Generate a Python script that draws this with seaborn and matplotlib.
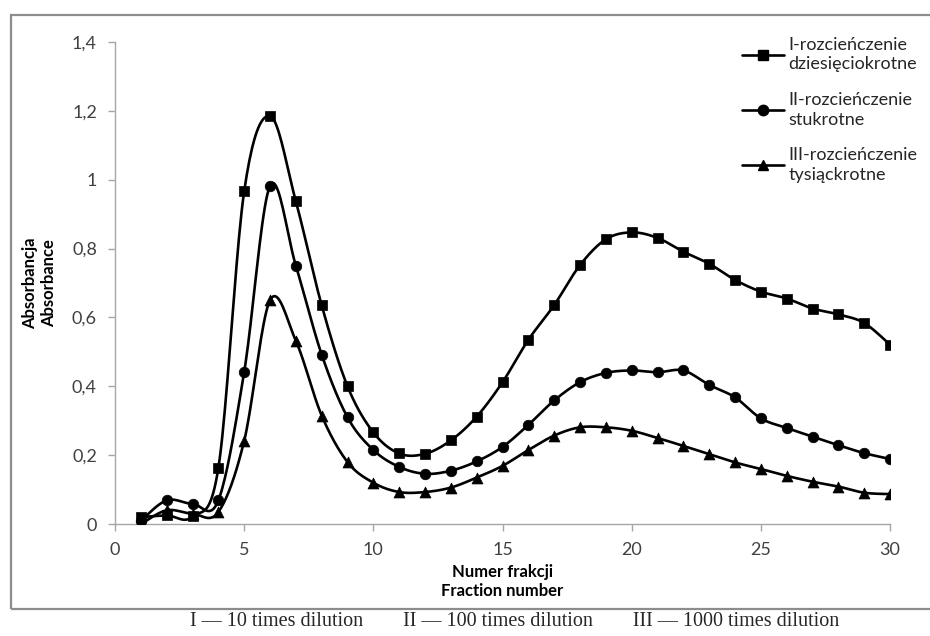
import numpy as np
import pandas as pd
import matplotlib
matplotlib.use('Agg')
import matplotlib.pyplot as plt
from matplotlib.lines import Line2D
from matplotlib.patches import Rectangle
import seaborn as sns

# fraction numbers and absorbance
fractions = list(range(1, 31))
dil_10 = [0.02, 0.025, 0.022, 0.163, 0.967, 1.185, 0.937, 0.635, 0.400, 0.266,
          0.205, 0.204, 0.243, 0.312, 0.412, 0.535, 0.636, 0.752, 0.827, 0.847,
          0.831, 0.791, 0.756, 0.709, 0.675, 0.655, 0.626, 0.609, 0.584, 0.521]
dil_100 = [0.01, 0.069, 0.059, 0.069, 0.442, 0.982, 0.750, 0.492, 0.310, 0.215,
           0.166, 0.146, 0.155, 0.182, 0.224, 0.288, 0.359, 0.412, 0.439, 0.446,
           0.441, 0.446, 0.404, 0.368, 0.307, 0.279, 0.254, 0.229, 0.206, 0.189]
dil_1000 = [0.0, 0.04, 0.03, 0.035, 0.242, 0.650, 0.532, 0.315, 0.180, 0.120,
            0.093, 0.093, 0.106, 0.135, 0.169, 0.215, 0.257, 0.281, 0.281, 0.271,
            0.250, 0.227, 0.203, 0.179, 0.160, 0.140, 0.123, 0.109, 0.091, 0.087]

series_names = ['I-rozcieńczenie\ndziesięciokrotne',
                'II-rozcieńczenie\nstukrotne',
                'III-rozcieńczenie\ntysiąckrotne']
markers = ['s', 'o', '^']
y_ticks = [0, 0.2, 0.4, 0.6, 0.8, 1.0, 1.2, 1.4]
y_tick_labels = ['0', '0,2', '0,4', '0,6', '0,8', '1', '1,2', '1,4']
x_ticks = [0, 5, 10, 15, 20, 25, 30]
caption = 'I — 10 times dilution        II — 100 times dilution        III — 1000 times dilution'


def smooth(x, y, n=20):
    # Excel-style smoothed line (Catmull-Rom bezier through the points)
    x = np.asarray(x, float)
    y = np.asarray(y, float)
    pts = np.column_stack([x, y])
    p = np.vstack([pts[0], pts, pts[-1]])
    out = []
    t = np.linspace(0, 1, n, endpoint=False)[:, None]
    for i in range(1, len(p) - 2):
        p0, p1, p2, p3 = p[i - 1], p[i], p[i + 1], p[i + 2]
        c1 = p1 + (p2 - p0) / 6
        c2 = p2 - (p3 - p1) / 6
        seg = ((1 - t) ** 3) * p1 + 3 * ((1 - t) ** 2) * t * c1 + 3 * (1 - t) * t ** 2 * c2 + t ** 3 * p2
        out.append(seg)
    out.append(pts[-1:])
    out = np.vstack(out)
    return out[:, 0], out[:, 1]


sns.set_style('white')
plt.rcParams['font.family'] = ['Lato', 'DejaVu Sans']

fig = plt.figure(figsize=(9.3, 6.36), dpi=100)
ax = fig.add_axes([0.1237, 0.176, 0.8333, 0.758])

# gray outer frame of the chart area
fig.add_artist(Rectangle((11 / 930, 1 - 609 / 636), 1.0, (609 - 15) / 636,
                         transform=fig.transFigure, fill=False,
                         edgecolor='#8c8c8c', linewidth=1.6, clip_on=False))

handles = []
for vals, name, mk in zip([dil_10, dil_100, dil_1000], series_names, markers):
    sx, sy = smooth(fractions, vals)
    sns.lineplot(x=sx, y=sy, ax=ax, color='black', linewidth=1.9, sort=False,
                 estimator=None)
    df = pd.DataFrame({'fraction': fractions, 'abs': vals})
    sns.scatterplot(data=df, x='fraction', y='abs', ax=ax, marker=mk,
                    color='black', s=58 if mk != '^' else 62, edgecolor='black',
                    linewidth=0.5, zorder=3)
    handles.append(Line2D([], [], color='black', linewidth=1.9, marker=mk,
                          markersize=7.5))

ax.set_xlim(0, 30)
ax.set_ylim(0, 1.4)
ax.set_xticks(x_ticks)
ax.set_xticklabels([str(v) for v in x_ticks])
ax.set_yticks(y_ticks)
ax.set_yticklabels(y_tick_labels)
ax.tick_params(axis='both', which='major', direction='out', length=5,
               width=1, color='#a6a6a6', labelcolor='#404040', labelsize=13,
               pad=8, left=True, bottom=True)
ax.tick_params(axis='x', pad=8)
for side in ['top', 'right']:
    ax.spines[side].set_visible(False)
for side in ['left', 'bottom']:
    ax.spines[side].set_color('#a6a6a6')
    ax.spines[side].set_linewidth(1)

ax.set_xlabel('Numer frakcji\nFraction number', fontsize=12, fontweight='bold',
              color='black', linespacing=1.3)
ax.xaxis.set_label_coords(0.5, -0.082)
ax.xaxis.label.set_va('top')
ax.set_ylabel('Absorbancja\nAbsorbance', fontsize=12, fontweight='bold',
              color='black', linespacing=1.2)
ax.yaxis.label.set_va('center')
ax.yaxis.set_label_coords(-0.097, 0.5)

leg = ax.legend(handles, series_names, loc='upper left',
                bbox_to_anchor=(0.80, 1.025), frameon=False, fontsize=13,
                handlelength=2.3, handletextpad=0.25, labelspacing=1.1,
                borderaxespad=0)
for t in leg.get_texts():
    t.set_color('#262626')
    t.set_linespacing(1.25)

fig.text(0.553, 1 - 622 / 636, caption, ha='center', va='center',
         fontsize=14.5, family=['Liberation Serif', 'DejaVu Serif'])

fig.savefig('out.png', dpi=100)
